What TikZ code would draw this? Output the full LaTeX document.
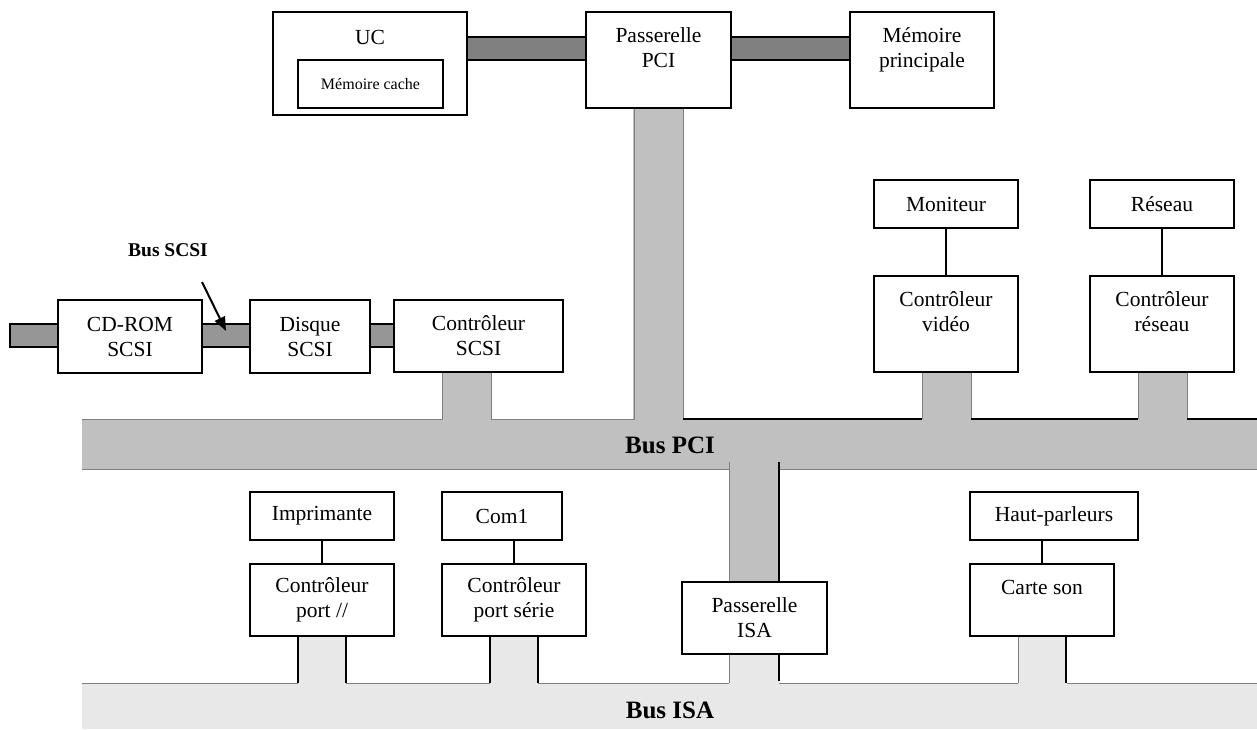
\documentclass[tikz,border=0pt]{standalone}
\usepackage{fontspec}
\setmainfont{Liberation Serif}
\usetikzlibrary{arrows.meta}
\definecolor{pcigray}{HTML}{C0C0C0}
\definecolor{isagray}{HTML}{E8E8E8}
\definecolor{topbar}{HTML}{808080}
\definecolor{scsibar}{HTML}{969696}
\definecolor{edgegray}{HTML}{808080}
\newcommand{\lowpad}{\\[-8pt]\strut}
\begin{document}
\begin{tikzpicture}[x=1pt,y=-1pt,
  dev/.style={draw=black, line width=1.4pt, fill=white, inner sep=0pt, outer sep=0pt,
    align=center, anchor=north west, font=\fontsize{21.5}{25}\selectfont},
  smalldev/.style={dev, font=\fontsize{16}{19}\selectfont},
  plain/.style={inner sep=0pt, font=\fontsize{21.5}{25}\selectfont},
  buslabel/.style={inner sep=0pt, font=\fontsize{25}{28}\selectfont\bfseries},
  scsilabel/.style={inner sep=0pt, font=\fontsize{19.5}{22}\selectfont\bfseries},
  thinedge/.style={draw=edgegray, line width=0.7pt},
  blackedge/.style={draw=black, line width=1.4pt},
  wire/.style={draw=black, line width=1.4pt},
  darkbar/.style={fill=topbar, draw=black, line width=1.4pt},
  scsibarst/.style={fill=scsibar, draw=black, line width=1.4pt}
]
\useasboundingbox (0,0) rectangle (1257,729);

% ---------- PCI bus ----------
\fill[pcigray] (82,419) rectangle (1257,469);
\fill[pcigray] (633,108) rectangle (683,420);
\fill[pcigray] (442,372) rectangle (491,420);
\fill[pcigray] (922,372) rectangle (971,420);
\fill[pcigray] (1138,372) rectangle (1187,420);
\fill[pcigray] (729,462) rectangle (779,582);
\draw[thinedge] (442,372) -- (442,419) -- (82,419);
\draw[thinedge] (491,372) -- (491,419) -- (634,419) -- (634,108);
\draw[thinedge] (683,108) -- (683,419);
\draw[thinedge] (922,372) -- (922,419);
\draw[thinedge] (971,372) -- (971,419);
\draw[thinedge] (1138,372) -- (1138,419);
\draw[thinedge] (1187,372) -- (1187,419);
\draw[blackedge] (683,419) -- (922,419);
\draw[blackedge] (971,419) -- (1138,419);
\draw[blackedge] (1187,419) -- (1257,419);
\draw[thinedge] (82,469) -- (729,469);
\draw[thinedge] (779,469) -- (1257,469);
\draw[thinedge] (729,462) -- (729,582);
\draw[blackedge] (779,462) -- (779,582);

% ---------- ISA bus ----------
\fill[isagray] (82,683) rectangle (1257,729);
\fill[isagray] (298,637) rectangle (346,684);
\fill[isagray] (490,637) rectangle (538,684);
\fill[isagray] (729,654) rectangle (779,684);
\fill[isagray] (1018,636) rectangle (1067,684);
\draw[thinedge] (82,683) -- (298,683);
\draw[thinedge] (346,683) -- (490,683);
\draw[thinedge] (538,683) -- (729,683);
\draw[thinedge] (779,683) -- (1018,683);
\draw[thinedge] (1067,683) -- (1257,683);
\draw[blackedge] (298,637) -- (298,683);
\draw[blackedge] (346,637) -- (346,683);
\draw[blackedge] (490,637) -- (490,683);
\draw[blackedge] (538,637) -- (538,683);
\draw[thinedge] (729,654) -- (729,683);
\draw[blackedge] (779,654) -- (779,681);
\draw[thinedge] (1018,636) -- (1018,683);
\draw[blackedge] (1066,630) -- (1066,683);

% ---------- top and SCSI bars ----------
\filldraw[darkbar] (467,37) rectangle (586,60);
\filldraw[darkbar] (731,37) rectangle (850,60);
\filldraw[scsibarst] (10,324) rectangle (58,347);
\filldraw[scsibarst] (202,324) rectangle (250,347);
\filldraw[scsibarst] (370,324) rectangle (394,347);

% ---------- boxes ----------
\node[dev, minimum width=194pt, minimum height=103pt] (uc) at (273,12) {};
\node[plain] (uct) at (370,37) {UC};
\node[smalldev, minimum width=145pt, minimum height=48pt] (cache) at (298,60) {Mémoire cache};
\node[dev, minimum width=145pt, minimum height=96pt] (ppci) at (586,12) {Passerelle\\PCI\lowpad};
\node[dev, minimum width=144pt, minimum height=96pt] (mp) at (850,12) {Mémoire\\principale\lowpad};

\node[dev, minimum width=144pt, minimum height=73pt] (cdrom) at (58,300) {CD-ROM\\SCSI};
\node[dev, minimum width=120pt, minimum height=73pt] (disque) at (250,300) {Disque\\SCSI};
\node[dev, minimum width=169pt, minimum height=72pt] (cscsi) at (394,300) {Contrôleur\\SCSI};

\node[dev, minimum width=144pt, minimum height=48pt] (mon) at (874,180) {Moniteur};
\node[dev, minimum width=144pt, minimum height=96pt] (cvid) at (874,276) {Contrôleur\\vidéo\lowpad};
\node[dev, minimum width=144pt, minimum height=48pt] (res) at (1090,180) {Réseau};
\node[dev, minimum width=144pt, minimum height=96pt] (cres) at (1090,276) {Contrôleur\\réseau\lowpad};

\node[dev, minimum width=144pt, minimum height=48pt] (imp) at (250,492) {Imprimante};
\node[dev, minimum width=144pt, minimum height=72pt] (cpar) at (250,564) {Contrôleur\\port //};
\node[dev, minimum width=120pt, minimum height=48pt] (com) at (442,492) {Com1};
\node[dev, minimum width=144pt, minimum height=72pt] (cser) at (442,564) {Contrôleur\\port série};
\node[dev, minimum width=145pt, minimum height=72pt] (pisa) at (682,582) {Passerelle\\ISA};
\node[dev, minimum width=168pt, minimum height=48pt] (hp) at (970,492) {Haut-parleurs};
\node[dev, minimum width=144pt, minimum height=72pt] (son) at (970,564) {Carte son\lowpad};

% ---------- connectors ----------
\draw[wire] (mon.south) -- (cvid.north);
\draw[wire] (res.south) -- (cres.north);
\draw[wire] (imp.south) -- (cpar.north);
\draw[wire] (cser.north |- com.south) -- (cser.north);
\draw[wire] (son.north |- hp.south) -- (son.north);

% ---------- labels ----------
\node[buslabel] (pcil) at (670,445) {Bus PCI};
\node[buslabel] (isal) at (670,710) {Bus ISA};
\node[scsilabel] (scsil) at (168,250) {Bus SCSI};
\coordinate (arrs) at (202,282);
\coordinate (arre) at (226,331);
\draw[line width=2pt, -{Triangle[length=14pt,width=11pt]}] (arrs) -- (arre);
\end{tikzpicture}
\end{document}
